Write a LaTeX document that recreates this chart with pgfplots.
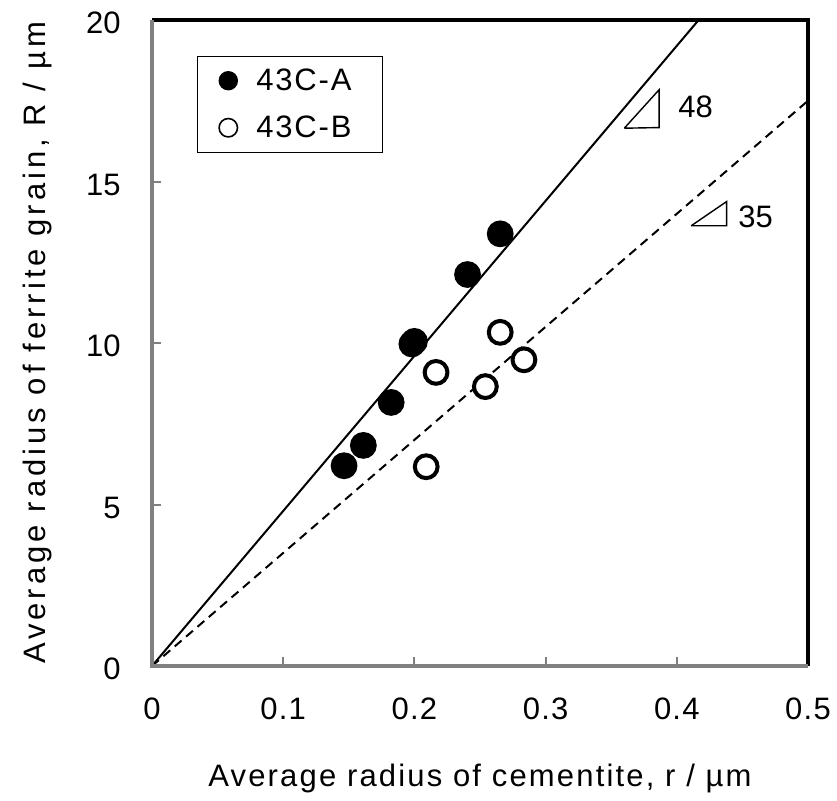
\documentclass[border=0pt]{standalone}
\usepackage{pgfplots}
\pgfplotsset{compat=1.18}
\usepackage{fontspec}
\setmainfont{Liberation Sans}
\definecolor{axgray}{RGB}{128,128,128}
\pgfplotstableread{
x y
0.1464 6.20
0.1611 6.83
0.1823 8.16
0.1981 9.97
0.2405 12.12
0.2654 13.38
}\seriesA
\pgfplotstableread{
x y
0.2000 10.05
0.2090 6.17
0.2165 9.09
0.2541 8.65
0.2654 10.33
0.2835 9.48
}\seriesB
\begin{document}
\begin{tikzpicture}
\path[use as bounding box] (-76pt,-67pt) rectangle (342.5pt,333pt);
\begin{axis}[
  at={(0pt,0pt)}, anchor=south west,
  scale only axis, width=328pt, height=323pt,
  xmin=0, xmax=0.5, ymin=0, ymax=20,
  axis line style={draw=none},
  xtick={0,0.1,0.2,0.3,0.4,0.5},
  xticklabels={0,0.1,0.2,0.3,0.4,0.5},
  ytick={0,5,10,15,20},
  yticklabels={0,5,10,15,20},
  tick pos=left, tick align=inside,
  major tick length=4.5pt,
  tick style={axgray, line width=1pt},
  xticklabel style={font=\fontsize{15.5}{18}\selectfont\addfontfeatures{LetterSpace=4}, anchor=base, inner sep=0pt, yshift=-26.5pt},
  yticklabel style={font=\fontsize{15.5}{18}\selectfont, anchor=east, inner sep=0pt, xshift=-15.5pt, yshift=-1.5pt},
  xlabel={Average radius of cementite, r / µm},
  ylabel={Average radius of ferrite grain, R / µm},
  xlabel style={font=\fontsize{15.5}{18}\selectfont\addfontfeatures{LetterSpace=7}, at={(axis description cs:0.5,-0.1873)}, anchor=base, inner sep=0pt},
  ylabel style={font=\fontsize{15.5}{18}\selectfont\addfontfeatures{LetterSpace=13}, at={(axis description cs:-0.1616,0.5)}, anchor=base, rotate=0, inner sep=0pt},
  legend style={at={(rel axis cs:0.068,0.945)}, anchor=north west, draw=black, line width=0.7pt,
    font=\fontsize{15.5}{18}\selectfont\addfontfeatures{LetterSpace=6},
    inner xsep=0pt, inner ysep=0.5pt, row sep=0pt, column sep=0pt,
    nodes={inner sep=0pt}},
  legend cell align=left,
  clip=false,
]
\addlegendimage{legend image code/.code={\path[draw=none] (-15.5pt,-11.75pt) rectangle (14pt,11.75pt); \fill[black] (0pt,0pt) circle (4.5pt);}}
\addlegendentry{43C-A\kern15.5pt}
\addlegendimage{legend image code/.code={\path[draw=none] (-15.5pt,-11.75pt) rectangle (14pt,11.75pt); \draw[black, line width=0.8pt] (0pt,0pt) circle (4.6pt);}}
\addlegendentry{43C-B\kern15.5pt}

\addplot[black, line width=1pt, forget plot] coordinates {(0,0) (0.41667,20)};
\addplot[black, line width=1pt, dash pattern=on 4.5pt off 3pt, forget plot] coordinates {(0,0) (0.5,17.5)};

\addplot[black, line width=0.7pt, forget plot] coordinates {(0.3600,16.65) (0.3865,16.67) (0.3865,17.84) (0.3600,16.65)};
\addplot[black, line width=0.7pt, forget plot] coordinates {(0.4110,13.63) (0.4380,13.63) (0.4380,14.38) (0.4110,13.63)};

\addplot[only marks, mark=*, mark size=5.7pt, mark options={draw=black, fill=white, line width=2pt}, forget plot] table {\seriesB};
\addplot[only marks, mark=*, mark size=6.3pt, mark options={draw=black, fill=black, line width=0.8pt}, forget plot] table {\seriesA};

\node[font=\fontsize{15.5}{18}\selectfont] at (axis cs:0.4143,17.31) {48};
\node[font=\fontsize{15.5}{18}\selectfont] at (axis cs:0.4600,13.92) {35};

\draw[black, line width=2pt] (rel axis cs:0,1) -- (rel axis cs:1,1) -- (rel axis cs:1,0);
\draw[axgray, line width=2pt] (rel axis cs:1,0) -- (rel axis cs:0,0) -- (rel axis cs:0,1);
\end{axis}
\end{tikzpicture}
\end{document}
